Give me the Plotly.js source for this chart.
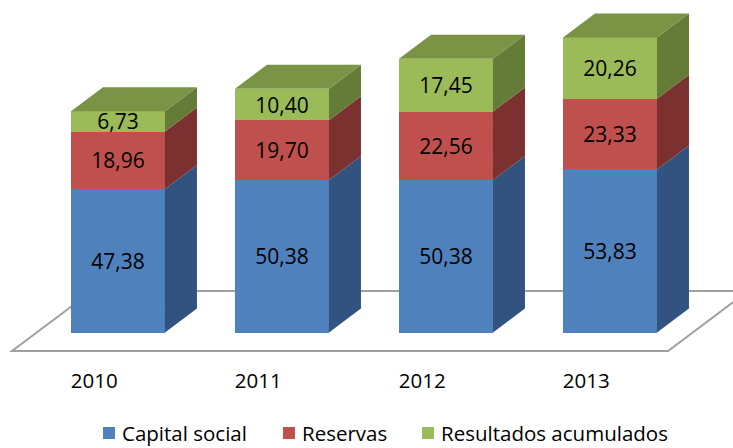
<!DOCTYPE html>
<html>
<head>
<meta charset="utf-8">
<script src="https://cdn.plot.ly/plotly-3.0.1.min.js"></script>
<style>html,body{margin:0;padding:0;background:#fff}#c{width:733px;height:448px}</style>
</head>
<body>
<div id="c"></div>
<script>
const years = ['2010', '2011', '2012', '2013'];
const capitalSocial = [47.38, 50.38, 50.38, 53.83];
const reservas = [18.96, 19.70, 22.56, 23.33];
const resultados = [6.73, 10.40, 17.45, 20.26];

const seriesNames = ['Capital social', 'Reservas', 'Resultados acumulados'];
const frontColors = ['#4F81BD', '#C0504D', '#9BBB59'];
const sideColors = ['#325380', '#7A3130', '#657B38'];
const topColor = '#7A9345';
const legendIds = ['legend', 'legend2', 'legend3'];
const legendX = [0.1119, 0.3574, 0.5471];

const positions = [0, 1, 2, 3];
const barWidth = 0.573;
const depthX = 0.195;
const depthY = 7.93;
const tickShift = -0.145;

const floorX = [-0.646, 3.354, 3.84, -0.158, -0.646];
const floorY = [-6.11, -6.11, 13.7, 13.7, -6.11];

const FONT = '"Open Sans", sans-serif';
const allSeries = [capitalSocial, reservas, resultados];
const fmt = v => v.toFixed(2).replace('.', ',');

const traces = [];
allSeries.forEach((vals, s) => {
  traces.push({
    type: 'bar', name: seriesNames[s], x: positions, y: vals,
    width: barWidth, legend: legendIds[s],
    marker: {color: frontColors[s], line: {width: 0}},
    text: vals.map(fmt), textposition: 'inside', insidetextanchor: 'middle',
    constraintext: 'none', textangle: 0,
    insidetextfont: {family: FONT, size: 21, color: '#000'},
    hoverinfo: 'skip'
  });
});

const base = positions.map(() => 0);
allSeries.forEach((vals, s) => {
  const xs = [], ys = [];
  positions.forEach((p, i) => {
    const r = p + barWidth / 2, b = base[i], t = b + vals[i];
    xs.push(r, r + depthX, r + depthX, r, r, null);
    ys.push(b, b + depthY, t + depthY, t, b, null);
    base[i] = t;
  });
  traces.push({type: 'scatter', mode: 'lines', x: xs, y: ys, fill: 'toself',
    fillcolor: sideColors[s], line: {width: 0, color: sideColors[s]},
    showlegend: false, hoverinfo: 'skip'});
});

const tx = [], ty = [];
positions.forEach((p, i) => {
  const l = p - barWidth / 2, r = p + barWidth / 2, t = base[i];
  tx.push(l, r, r + depthX, l + depthX, l, null);
  ty.push(t, t, t + depthY, t + depthY, t, null);
});
traces.push({type: 'scatter', mode: 'lines', x: tx, y: ty, fill: 'toself',
  fillcolor: topColor, line: {width: 0, color: topColor},
  showlegend: false, hoverinfo: 'skip'});

const floorPath = floorX.map((x, i) => (i ? 'L' : 'M') + x + ',' + floorY[i]).join(' ') + ' Z';

const layout = {
  width: 733, height: 448,
  margin: {l: 0, r: 0, t: 0, b: 88, pad: 0, autoexpand: false},
  paper_bgcolor: '#fff', plot_bgcolor: '#fff',
  barmode: 'stack',
  showlegend: true,
  xaxis: {range: [-0.7195, 3.75], tickmode: 'array',
    tickvals: positions.map(p => p + tickShift), ticktext: years,
    ticks: '', showgrid: false, zeroline: false, showline: false,
    ticklabelstandoff: 6,
    tickfont: {family: FONT, size: 20.5, color: '#000'}},
  yaxis: {range: [-9.08, 109.8], visible: false, showgrid: false, zeroline: false},
  shapes: [{type: 'path', xref: 'x', yref: 'y', path: floorPath, layer: 'below',
    line: {color: '#A0A0A0', width: 2}, fillcolor: 'rgba(0,0,0,0)'}]
};
legendIds.forEach((id, i) => {
  layout[id] = {orientation: 'h', x: legendX[i], xanchor: 'left', y: -0.148, yanchor: 'top',
    borderwidth: 0, bgcolor: 'rgba(0,0,0,0)', font: {family: FONT, size: 20.5, color: '#000'}};
});

Plotly.newPlot('c', traces, layout, {displayModeBar: false, staticPlot: true}).then(() => {
  // the reference keeps its legend swatches closer to the text
  document.querySelectorAll('.legendpoints').forEach(g => g.setAttribute('transform', 'translate(7,0)'));
});
</script>
</body>
</html>
